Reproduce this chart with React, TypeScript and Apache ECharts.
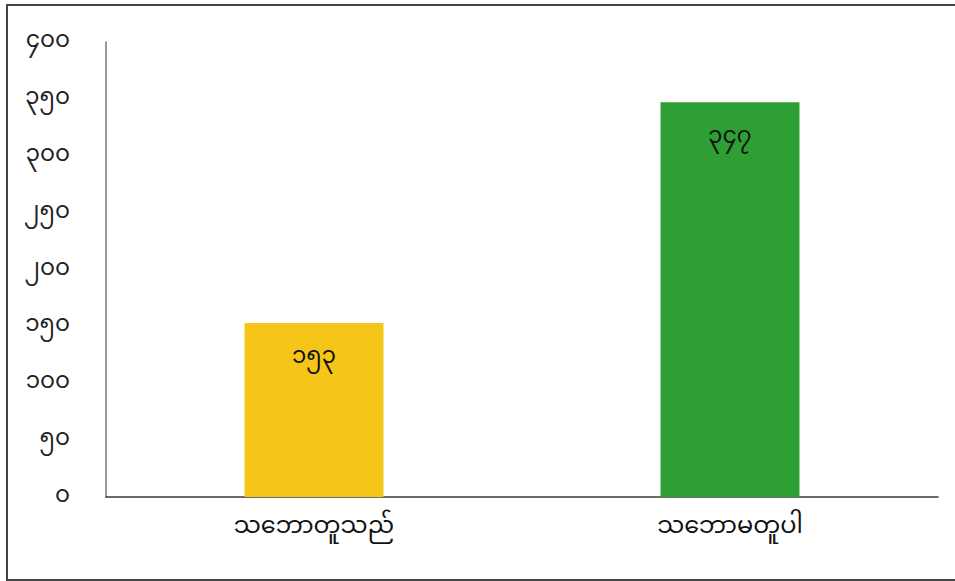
import React, { useEffect, useRef } from "react";
import * as echarts from "echarts";

const categories = ["သဘောတူသည်", "သဘောမတူပါ"];
const values = [153, 347];
const valueLabels = ["၁၅၃", "၃၄၇"];
const barColors = ["#F5C617", "#2E9F35"];
const yTicks = [0, 50, 100, 150, 200, 250, 300, 350, 400];
const yTickLabels = ["၀", "၅၀", "၁၀၀", "၁၅၀", "၂၀၀", "၂၅၀", "၃၀၀", "၃၅၀", "၄၀၀"];

const FONT = "'Noto Sans Myanmar', 'Padauk', 'Myanmar Text', 'Noto Sans', sans-serif";

export default function App() {
  const ref = useRef<HTMLDivElement>(null);
  useEffect(() => {
    if (!ref.current) return;
    const chart = echarts.init(ref.current, undefined, { renderer: "svg" });
    chart.setOption({
      animation: false,
      backgroundColor: "#ffffff",
      textStyle: { fontFamily: FONT },
      grid: { left: 106, right: 17, top: 42, bottom: 84, containLabel: false },
      xAxis: {
        type: "category",
        data: categories,
        axisLine: { show: true, lineStyle: { color: "#3a3a3a", width: 1.5 } },
        axisTick: { show: false },
        axisLabel: { color: "#111", fontSize: 24, margin: 18, fontFamily: FONT },
        splitLine: { show: false },
      },
      yAxis: {
        type: "value",
        min: 0,
        max: 400,
        interval: 50,
        axisLine: { show: true, lineStyle: { color: "#777", width: 1.5 } },
        axisTick: { show: false },
        splitLine: { show: false },
        axisLabel: {
          color: "#222",
          fontSize: 23,
          margin: 36,
          fontFamily: FONT,
          formatter: (v: number) => {
            const i = yTicks.indexOf(v);
            return i >= 0 ? yTickLabels[i] : "";
          },
        },
      },
      series: [
        {
          type: "bar",
          barWidth: "33.4%",
          data: values.map((v, i) => ({ value: v, itemStyle: { color: barColors[i] } })),
          label: {
            show: true,
            position: "insideTop",
            distance: 24,
            color: "#111",
            fontSize: 23,
            fontFamily: FONT,
            formatter: (p: any) => valueLabels[p.dataIndex],
          },
        },
      ],
      graphic: [
        {
          type: "polyline",
          shape: { points: [[960, 5], [7, 5], [7, 580], [960, 580]] },
          style: { stroke: "#444", lineWidth: 2, fill: "none" },
          silent: true,
        },
      ],
    });
    return () => chart.dispose();
  }, []);
  return (
    <div
      ref={ref}
      style={{ position: "absolute", left: 0, top: 0, width: 955, height: 581 }}
    />
  );
}
